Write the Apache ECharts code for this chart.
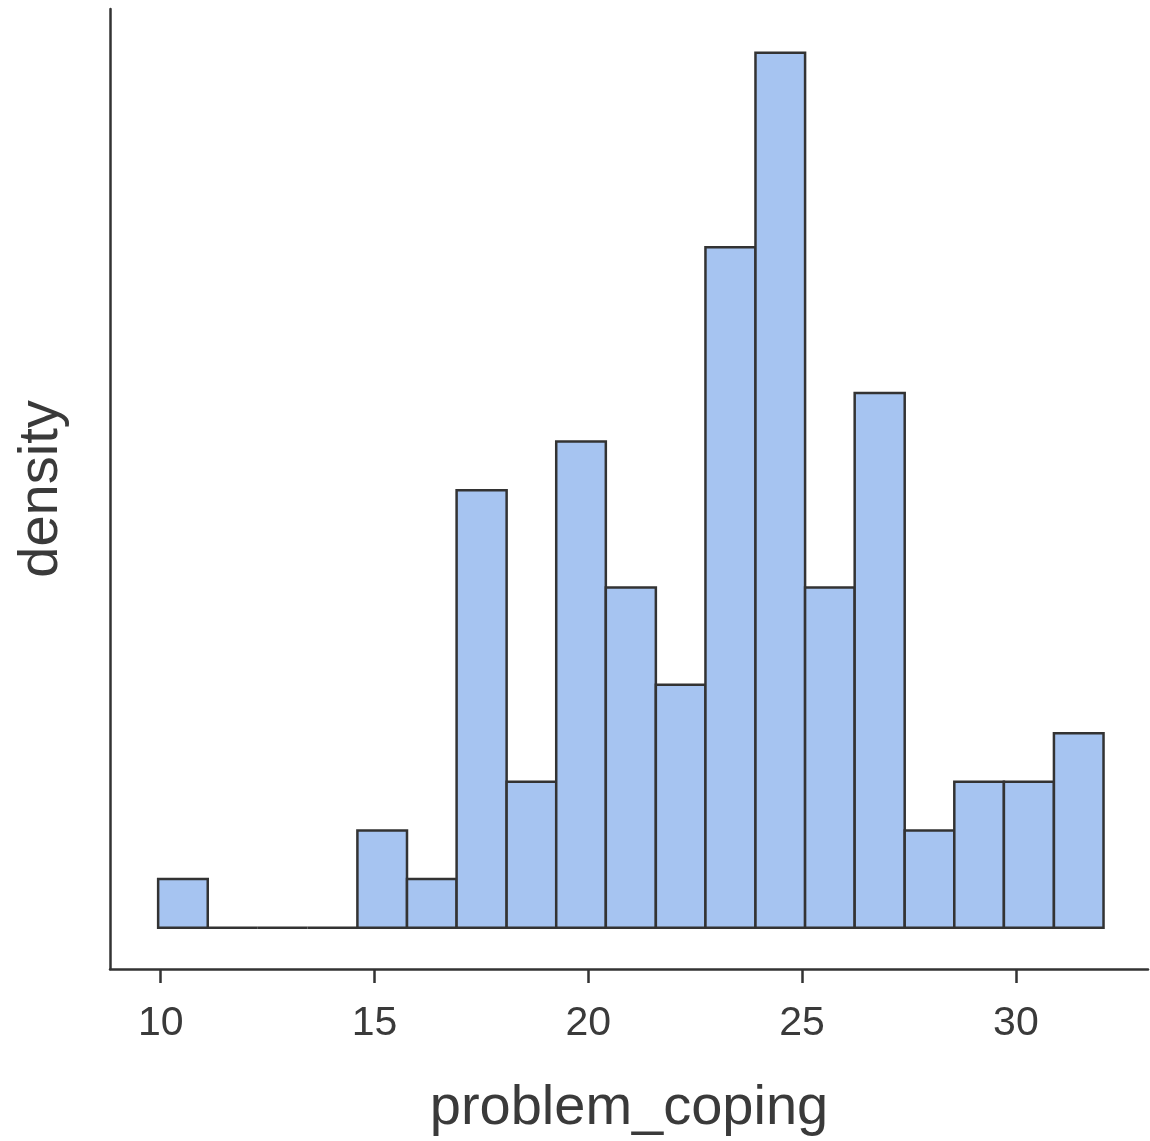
<!DOCTYPE html>
<html>
<head>
<meta charset="utf-8">
<script src="https://cdn.jsdelivr.net/npm/echarts@6/dist/echarts.min.js"></script>
<style>
html,body{margin:0;padding:0;background:#fff;}
#chart{width:1150px;height:1141px;}
</style>
</head>
<body>
<div id="chart"></div>
<script>
// Histogram bin edges (problem_coping)
var binEdges = [9.94, 11.10, 12.27, 13.43, 14.60, 15.76, 16.92, 18.09, 19.25, 20.41,
                21.58, 22.74, 23.91, 25.07, 26.23, 27.40, 28.56, 29.72, 30.89, 32.05];
// Counts per bin
var counts = [1, 0, 0, 0, 2, 1, 9, 3, 10, 7, 5, 14, 18, 7, 11, 2, 3, 3, 4];
// X tick labels
var xTicks = [10, 15, 20, 25, 30];

var data = counts.map(function (c, i) { return [binEdges[i], binEdges[i + 1], c]; });

var chart = echarts.init(document.getElementById('chart'), null, {renderer: 'canvas'});
var FONT = 'Liberation Sans, Arial, sans-serif';
chart.setOption({
  animation: false,
  backgroundColor: '#ffffff',
  grid: {left: 110, right: 2, top: 9, bottom: 172, containLabel: false, outerBoundsMode: 'none'},
  xAxis: {
    type: 'value',
    min: 8.814, max: 33.09,
    name: 'problem_coping',
    nameLocation: 'middle',
    nameGap: 112,
    nameTextStyle: {fontSize: 56, color: '#3a3a3a', fontFamily: FONT},
    axisLine: {show: true, onZero: false, lineStyle: {color: '#333333', width: 2.5}},
    axisTick: {show: true, customValues: xTicks, length: 14, lineStyle: {color: '#333333', width: 2.5}},
    axisLabel: {show: true, customValues: xTicks, margin: 34, fontSize: 41, color: '#3a3a3a', fontFamily: FONT},
    splitLine: {show: false}
  },
  yAxis: {
    type: 'value',
    min: -0.85, max: 18.9,
    name: 'density',
    nameLocation: 'middle',
    nameGap: 40,
    nameRotate: 90,
    nameTextStyle: {fontSize: 56, color: '#3a3a3a', fontFamily: FONT},
    axisLine: {show: true, lineStyle: {color: '#333333', width: 2.5}},
    axisTick: {show: false},
    axisLabel: {show: false},
    splitLine: {show: false}
  },
  series: [{
    type: 'custom',
    data: data,
    encode: {x: [0, 1], y: 2},
    renderItem: function (params, api) {
      var p0 = api.coord([api.value(0), 0]);
      var p1 = api.coord([api.value(1), api.value(2)]);
      if (api.value(2) === 0) {
        return {
          type: 'line',
          shape: {x1: p0[0], y1: p0[1], x2: p1[0], y2: p0[1]},
          style: {stroke: '#333333', lineWidth: 2.5}
        };
      }
      return {
        type: 'rect',
        shape: {x: p0[0], y: p1[1], width: p1[0] - p0[0], height: p0[1] - p1[1]},
        style: {fill: '#a6c4f1', stroke: '#333333', lineWidth: 2.5}
      };
    }
  }]
});
</script>
</body>
</html>
